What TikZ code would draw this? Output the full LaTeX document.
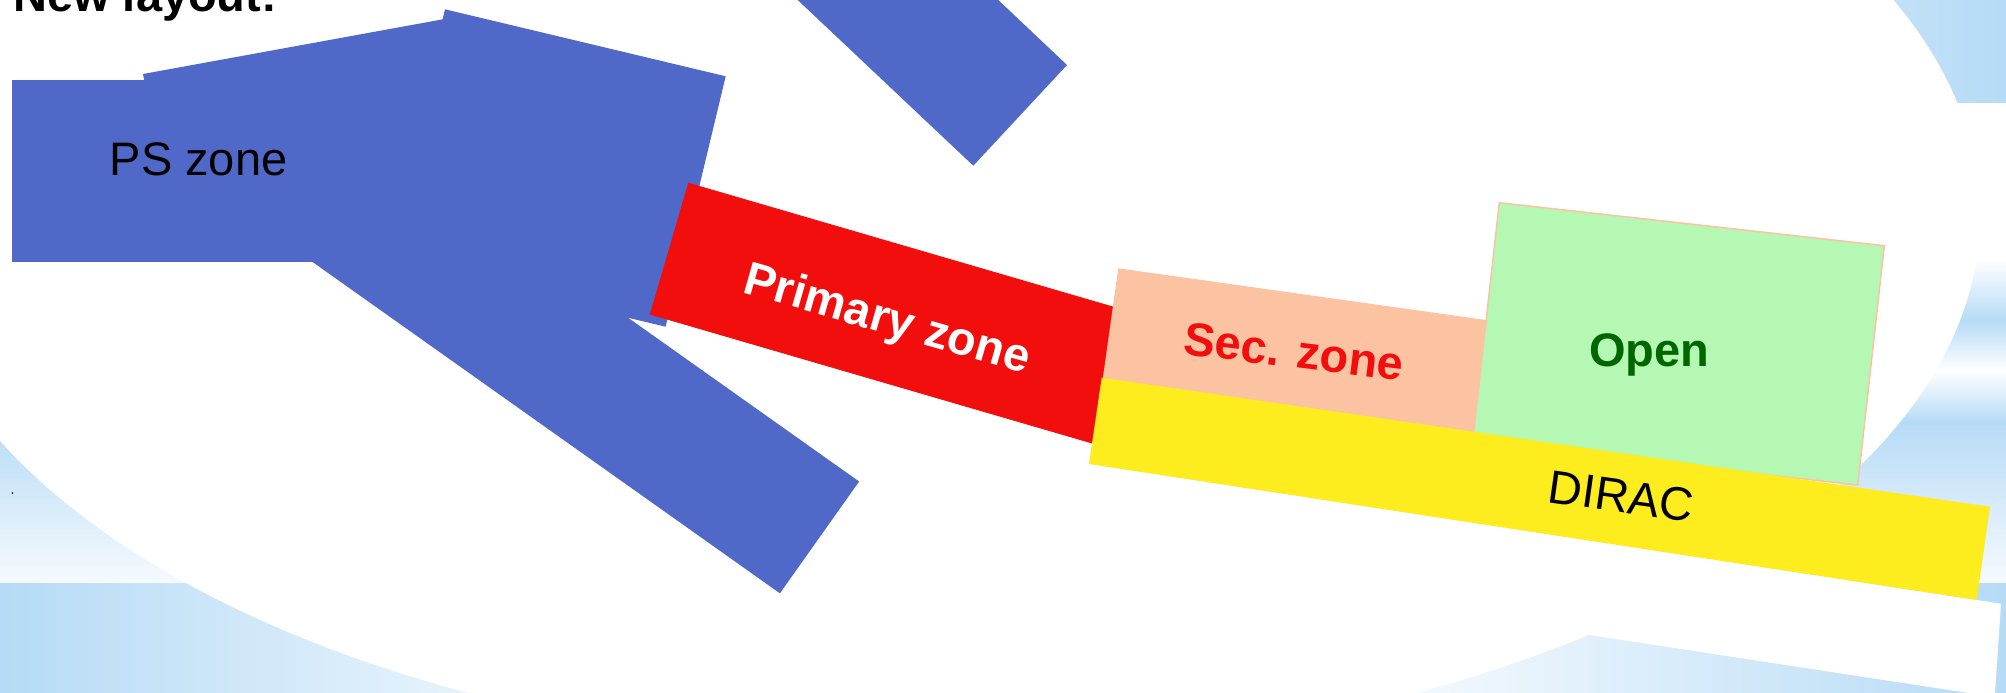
\documentclass[tikz,border=0pt]{standalone}
\usepackage{fontspec}
\setmainfont{Liberation Sans}
\definecolor{bandblue}{RGB}{182,219,246}
\definecolor{bandpale}{RGB}{246,250,254}
\definecolor{beamblue}{RGB}{80,105,200}
\definecolor{primred}{RGB}{243,14,14}
\definecolor{secpeach}{RGB}{251,195,162}
\definecolor{opengreen}{RGB}{180,248,180}
\definecolor{opentext}{RGB}{0,102,0}
\definecolor{diracyellow}{RGB}{253,236,30}
\begin{document}
\begin{tikzpicture}[x=1pt,y=-1pt,
  zonetext/.style={inner sep=0pt, outer sep=0pt, anchor=base west,
    font=\fontsize{47}{56}\selectfont},
  boldzonetext/.style={zonetext, font=\fontsize{47}{56}\selectfont\bfseries},
  beam/.style={fill=beamblue}]
\useasboundingbox (0,0) rectangle (2006,693);
\begin{scope}
\clip (0,0) rectangle (2006,693);
% slide background: white page with light blue bands
\fill[white] (0,0) rectangle (2006,693);
\shade[left color=white, right color=bandblue] (1300,0) rectangle (2006,102);
\shade[top color=white, bottom color=bandblue] (0,260) rectangle (2006,320.5);
\shade[top color=bandblue, bottom color=white] (0,320) rectangle (2006,370.5);
\shade[top color=white, bottom color=bandblue] (0,370) rectangle (2006,422.5);
\shade[top color=bandblue, bottom color=bandpale] (0,422) rectangle (2006,583);
\shade[left color=bandblue, right color=white] (0,583) rectangle (700.5,693);
\fill[white] (700,583) rectangle (1300.5,693);
\shade[left color=white, right color=bandblue] (1300,583) rectangle (2006,693);
% large white oval and the white strip below the DIRAC bar
\fill[white] (942,215) ellipse [x radius=1038pt, y radius=537pt];
\fill[white] (1300,496.3) -- (2001,603.7) -- (1994.7,697) -- (1300,590.7) -- cycle;
\fill[black] (12.5,493) circle (0.8pt);
% beam lines and the PS zone
\fill[beam] (792.4,-5) -- (973.3,165.7) -- (1067,65) -- (993,-5) -- cycle;
\fill[beam] (313,262.3) -- (392.2,150.5) -- (859.1,481.5) -- (779.9,593.3) -- cycle;
\fill[beam] (11.7,80) rectangle (380,262.3);
\fill[beam] (143,74) -- (443,19.3) -- (476.2,201.3) -- (176.2,256) -- cycle;
\fill[beam] (445,9.3) -- (725.7,76.3) -- (665.6,326.7) -- (384.9,259.7) -- cycle;
% experimental zones
\fill[primred] (688.3,182.7) -- (1139.5,314.3) -- (1101,446.1) -- (649.8,314.5) -- cycle;
\fill[secpeach] (1118.3,268.3) -- (1534.2,326.8) -- (1516.8,450.6) -- (1100.9,392.1) -- cycle;
\filldraw[fill=opengreen, draw=secpeach, line width=1.5pt]
  (1499.3,202.7) -- (1884.3,245.7) -- (1857.7,485) -- (1472.5,442) -- cycle;
\fill[diracyellow] (1101.7,377.7) -- (1990,506.7) -- (1976.7,600) -- (1089,464) -- cycle;
% labels
\node[boldzonetext] (title) at (13.3,11.3) {New layout:};
\node[zonetext] (ps) at (109.7,175.3) {PS zone};
\node[boldzonetext, text=white, rotate=-16] (primary) at (741.5,292.3) {Primary zone};
\node[boldzonetext, text=primred, rotate=-7] (sec) at (1182,354) {Sec. zone};
\node[boldzonetext, text=opentext] (open) at (1589,366.3) {Open};
\node[zonetext, rotate=-8] (dirac) at (1546.5,502) {DIRAC};
\end{scope}
\end{tikzpicture}
\end{document}
